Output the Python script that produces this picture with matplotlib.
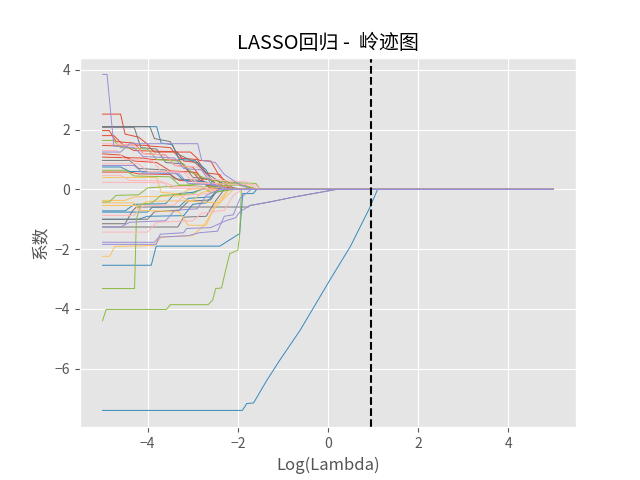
import matplotlib
matplotlib.use("Agg")
import matplotlib.pyplot as plt

# 各系数随 log(lambda) 的路径 (按颜色分组, 每个点为 (log_lambda, 系数))
red_paths = [
    [(-5, 2.52), (-4.6, 2.52), (-4.5, 1.85), (-4.2, 1.75), (-3.95, 1.45), (-3.5, 1.4), (-3.3, 1.05),
     (-2.9, 1.0), (-2.7, 0.55), (-2.4, 0.5), (-2.2, 0.05), (-1.6, 0)],
    [(-5, 1.97), (-4.85, 1.97), (-4.7, 1.6), (-4.3, 1.55), (-4.1, 1.2), (-3.6, 1.15), (-3.4, 0.8),
     (-3.0, 0.75), (-2.8, 0.35), (-2.45, 0.3), (-2.25, 0)],
    [(-5, 1.8), (-4.75, 1.8), (-4.55, 1.5), (-4.0, 1.47), (-3.85, 1.25), (-3.05, 1.25), (-2.85, 0.97),
     (-2.6, 0.95), (-2.4, 0.42), (-2.2, 0.22), (-1.9, 0.13), (-1.58, 0)],
    [(-5, 1.47), (-4.5, 1.45), (-4.3, 1.3), (-3.35, 1.26), (-3.2, 0.95), (-2.9, 0.9), (-2.75, 0.6),
     (-2.5, 0.2), (-2.3, 0.1), (-2.1, 0)],
    [(-5, 1.08), (-4.1, 1.05), (-3.9, 1.0), (-3.3, 0.98), (-3.1, 0.6), (-2.9, 0.55), (-2.7, 0.15),
     (-2.4, 0.05), (-2.2, 0)],
    [(-5, 0.58), (-4.4, 0.58), (-4.2, 0.52), (-3.5, 0.5), (-3.3, 0.3), (-2.8, 0.25), (-2.6, 0.05), (-2.3, 0)],
    [(-5, 1.19), (-4.6, 1.15), (-4.3, 0.95), (-3.8, 0.9), (-3.5, 0.62), (-3.0, 0.58), (-2.8, 0.25), (-2.4, 0)],
]

blue_paths = [
    [(-5, -7.4), (-1.9, -7.4), (-1.8, -7.17), (-1.65, -7.15), (-1.36, -6.4), (-1.07, -5.72),
     (-0.62, -4.72), (0.04, -3.04), (0.5, -1.9), (0.93, -0.6), (1.1, 0)],
    [(-5, -2.54), (-3.92, -2.54), (-3.81, -1.9), (-2.4, -1.9), (-1.96, -1.48), (-1.89, -0.14),
     (-1.66, -0.14), (-1.58, 0)],
    [(-5, 2.1), (-3.8, 2.1), (-3.7, 1.55), (-3.45, 1.5), (-3.3, 1.0), (-2.95, 0.97), (-2.7, 0.65),
     (-2.55, 0.15), (-2.3, 0)],
    [(-5, -0.76), (-4.0, -0.76), (-3.9, -0.6), (-3.3, -0.58), (-3.1, -0.3), (-2.6, -0.25), (-2.4, 0)],
    [(-5, -0.72), (-4.5, -0.72), (-4.3, -0.5), (-3.6, -0.48), (-3.4, -0.15), (-3.0, -0.1), (-2.8, 0)],
    [(-5, -1.0), (-4.2, -1.0), (-4.0, -0.9), (-3.2, -0.88), (-3.0, -0.5), (-2.7, -0.45), (-2.5, -0.1), (-2.2, 0)],
    [(-5, 0.75), (-4.6, 0.75), (-4.4, 0.6), (-3.4, 0.58), (-3.2, 0.3), (-2.7, 0.25), (-2.5, 0.05), (-2.2, 0)],
]

purple_paths = [
    [(-5, 3.85), (-4.9, 3.85), (-4.75, 1.45), (-4.3, 1.4), (-4.1, 1.1), (-3.4, 1.05), (-3.2, 0.7),
     (-2.8, 0.65), (-2.6, 0.2), (-2.2, 0)],
    [(-5, -1.84), (-3.81, -1.84), (-3.72, -1.5), (-3.2, -1.45), (-3.14, -1.31), (-2.6, -1.28),
     (-2.25, -1.04), (-2.05, -0.95), (-1.96, -0.76), (-1.73, -0.54), (-1.29, -0.42), (-0.77, -0.26),
     (-0.33, -0.14), (0.19, 0)],
    [(-5, -1.77), (-3.85, -1.77), (-3.75, -1.6), (-3.1, -1.55), (-2.85, -1.45), (-2.45, -1.4),
     (-2.3, -0.9), (-2.1, -0.85), (-1.95, -0.3), (-1.7, 0)],
    [(-5, 0.8), (-4.3, 0.8), (-4.1, 0.55), (-3.3, 0.52), (-3.1, 0.2), (-2.5, 0.15), (-2.2, 0)],
    [(-5, 1.25), (-4.6, 1.25), (-4.4, 1.53), (-2.89, 1.53), (-2.8, 0.97), (-2.5, 0.9), (-2.3, 0.5),
     (-2.0, 0.2), (-1.7, 0)],
    [(-5, -1.26), (-4.6, -1.26), (-4.4, -1.1), (-3.6, -1.05), (-3.4, -0.7), (-2.9, -0.65), (-2.7, -0.2), (-2.4, 0)],
]

gray_paths = [
    [(-5, 2.08), (-4.3, 2.08), (-4.15, 1.4), (-3.8, 1.35), (-3.6, 0.9), (-3.2, 0.85), (-3.0, 0.4),
     (-2.6, 0.35), (-2.4, 0)],
    [(-5, 2.1), (-3.95, 2.1), (-3.85, 1.7), (-3.5, 1.6), (-3.35, 1.2), (-2.95, 0.9), (-2.7, 0.55),
     (-2.4, 0.25), (-2.0, 0)],
    [(-5, -1.15), (-4.5, -1.15), (-4.35, -0.75), (-4.25, -0.59), (-1.77, -0.59), (-1.73, -0.54),
     (-1.29, -0.42), (-0.77, -0.26), (-0.33, -0.14), (0.19, 0)],
    [(-5, -1.0), (-4.0, -1.0), (-3.85, -0.75), (-3.3, -0.7), (-3.1, -0.4), (-2.6, -0.35), (-2.45, 0)],
    [(-5, 0.97), (-4.4, 0.97), (-4.2, 0.7), (-3.6, 0.65), (-3.4, 0.35), (-2.8, 0.3), (-2.6, 0)],
    [(-5, -1.26), (-3.33, -1.26), (-3.2, -0.93), (-2.7, -0.9), (-2.5, -0.4), (-2.3, 0)],
]

yellow_paths = [
    [(-5, -2.24), (-4.84, -2.24), (-4.73, -1.91), (-3.85, -1.88), (-3.7, -1.6), (-3.0, -1.55),
     (-2.75, -1.2), (-2.5, -0.6), (-2.3, -0.3), (-2.1, 0)],
    [(-5, -0.37), (-4.5, -0.37), (-4.3, -0.25), (-3.3, -0.22), (-3.1, 0.0), (-2.5, 0.05), (-2.0, 0.2), (-1.55, 0)],
    [(-5, -0.54), (-4.2, -0.54), (-4.0, -0.4), (-3.0, -0.38), (-2.8, -0.1), (-2.4, 0)],
    [(-5, 0.4), (-3.8, 0.4), (-3.7, -0.1), (-3.3, -0.15), (-3.1, -0.4), (-2.4, -0.45), (-2.2, 0)],
    [(-5, -0.45), (-4.3, -0.45), (-4.2, -0.7), (-3.3, -0.75), (-3.1, -1.2), (-2.7, -1.2), (-2.5, -0.5), (-2.2, 0)],
]

green_paths = [
    [(-5, -4.4), (-4.92, -4.02), (-3.58, -4.02), (-3.5, -3.86), (-2.66, -3.86), (-2.56, -3.71),
     (-2.49, -3.32), (-2.36, -3.3), (-2.3, -2.9), (-2.18, -2.15), (-2.0, -2.04), (-1.96, -1.54), (-1.92, 0)],
    [(-5, -3.32), (-4.29, -3.32), (-4.25, -1.0), (-4.15, -0.5), (-3.9, -0.45), (-3.7, -0.2), (-3.0, -0.15),
     (-2.7, 0.1), (-2.0, 0.15), (-1.6, 0)],
    [(-5, 1.64), (-4.75, 1.64), (-4.6, 1.4), (-4.0, 1.35), (-3.8, 1.0), (-3.3, 0.95), (-3.0, 0.55),
     (-2.6, 0.3), (-2.0, 0.22), (-1.6, 0.2), (-1.5, 0)],
    [(-5, 0.64), (-4.5, 0.64), (-4.3, 0.45), (-3.5, 0.42), (-3.3, 0.15), (-2.8, 0.1), (-2.6, -0.1), (-2.3, -0.05), (-2.1, 0)],
    [(-5, -0.42), (-4.85, -0.42), (-4.7, -0.2), (-4.2, -0.18), (-4.0, 0.05), (-3.5, 0.1), (-2.7, 0.2), (-2.0, 0.2), (-1.55, 0)],
]

pink_paths = [
    [(-5, 1.53), (-4.3, 1.5), (-4.1, 1.2), (-3.6, 1.15), (-3.4, 0.8), (-2.9, 0.75), (-2.6, 0.35),
     (-2.2, 0.28), (-1.8, 0.25), (-1.55, 0)],
    [(-5, 1.3), (-4.7, 1.3), (-4.5, 1.0), (-3.9, 0.97), (-3.7, 0.6), (-3.1, 0.55), (-2.9, 0.2),
     (-2.2, 0.18), (-1.6, 0.15), (-1.5, 0)],
    [(-5, 0.86), (-4.2, 0.86), (-4.0, 0.6), (-3.2, 0.58), (-3.0, 0.25), (-2.5, 0.2), (-2.3, 0)],
    [(-5, 0.47), (-4.6, 0.47), (-4.4, 0.3), (-3.7, 0.28), (-3.5, 0.05), (-2.9, 0.02), (-2.7, 0)],
    [(-5, 0.24), (-3.6, 0.22), (-3.4, 0.1), (-2.8, 0.08), (-2.6, 0)],
    [(-5, -0.87), (-4.3, -0.87), (-4.1, -0.55), (-3.4, -0.52), (-3.2, -0.2), (-2.7, -0.15), (-2.5, 0)],
    [(-5, -1.43), (-4.0, -1.43), (-3.8, -1.1), (-3.0, -1.05), (-2.8, -0.8), (-2.3, -0.7), (-2.1, -0.2), (-1.9, 0)],
]

log_lambda_max = 5.0
best_log_lambda = 0.95

plt.style.use("ggplot")
plt.rcParams["font.family"] = ["Noto Sans CJK SC", "DejaVu Sans"]
plt.rcParams["axes.unicode_minus"] = True

groups = [
    (red_paths, "#E24A33"),
    (blue_paths, "#348ABD"),
    (gray_paths, "#777777"),
    (yellow_paths, "#FBC15E"),
    (green_paths, "#8EBA42"),
    (pink_paths, "#FFB5B8"),
    (purple_paths, "#988ED5"),
]

fig, ax = plt.subplots(figsize=(6.4, 4.8), dpi=100)
for paths, color in groups:
    for path in paths:
        xs = [p[0] for p in path] + [log_lambda_max]
        ys = [p[1] for p in path] + [0]
        ax.plot(xs, ys, color=color, lw=0.7)

ax.axvline(best_log_lambda, color="black", linestyle="--", lw=1.5)
ax.set_xlabel("Log(Lambda)")
ax.set_ylabel("系数")
ax.set_title("LASSO回归 -  岭迹图")

fig.savefig("out.png")
